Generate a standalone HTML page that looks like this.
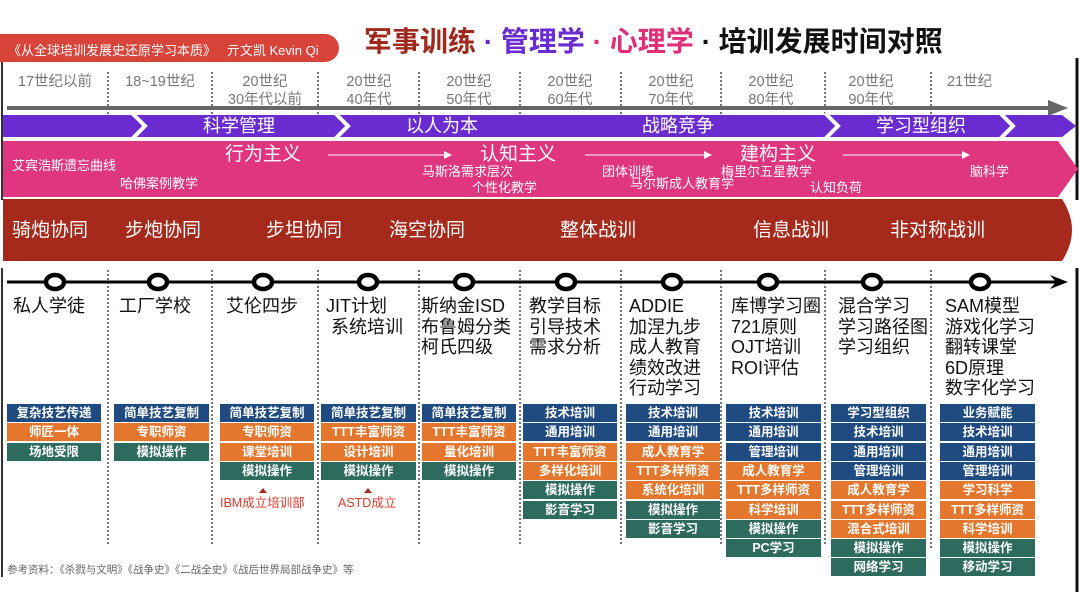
<!DOCTYPE html>
<html><head><meta charset="utf-8"><style>
*{margin:0;padding:0;box-sizing:border-box}
body{width:1080px;height:608px;background:#fff;position:relative;overflow:hidden;font-family:"Liberation Sans","Noto Sans CJK SC",sans-serif}
.a{position:absolute;white-space:nowrap}
.era{position:absolute;color:#777;font-size:14.5px;line-height:18px;text-align:center}
.w{color:#fff}
.t{position:absolute;font-size:18px;line-height:20.5px;color:#111;white-space:nowrap}
.bx{position:absolute;height:18px;color:#fff;font-size:12.5px;font-weight:bold;text-align:center;line-height:18px;white-space:nowrap;overflow:hidden}
.B{background:#1f4b80}.O{background:#e4772d}.T{background:#2d6b5f}
.s{position:absolute;color:#fff;font-size:13px;line-height:14px;white-space:nowrap}
</style></head><body>
<svg class="a" style="left:0;top:0" width="1080" height="608">
<defs><marker id="ah" markerWidth="8" markerHeight="8" refX="6" refY="4" orient="auto"><path d="M0,0 L8,4 L0,8 z" fill="#fff"/></marker></defs>
<path d="M0,34 H325 a14,14 0 0 1 0,28 H0z" fill="#d9443a"/>
<line x1="2" y1="62" x2="2" y2="200" stroke="#333" stroke-width="2"/>
<line x1="2" y1="268" x2="2" y2="577" stroke="#333" stroke-width="2"/>
<line x1="1077" y1="58" x2="1077" y2="200" stroke="#111" stroke-width="3"/>
<line x1="1077" y1="268" x2="1077" y2="592" stroke="#111" stroke-width="3"/>
<g stroke="#777" stroke-width="2" stroke-dasharray="2,2">
<line x1="108" y1="72" x2="108" y2="116"/><line x1="212" y1="72" x2="212" y2="116"/><line x1="318" y1="72" x2="318" y2="116"/><line x1="419" y1="72" x2="419" y2="116"/><line x1="520" y1="72" x2="520" y2="116"/><line x1="621" y1="72" x2="621" y2="116"/><line x1="721" y1="72" x2="721" y2="116"/><line x1="825" y1="72" x2="825" y2="116"/><line x1="931" y1="72" x2="931" y2="116"/>
<line x1="108" y1="270" x2="108" y2="545"/><line x1="212" y1="270" x2="212" y2="545"/><line x1="318" y1="270" x2="318" y2="545"/><line x1="419" y1="270" x2="419" y2="545"/><line x1="520" y1="270" x2="520" y2="545"/><line x1="621" y1="270" x2="621" y2="545"/><line x1="721" y1="270" x2="721" y2="545"/><line x1="825" y1="270" x2="825" y2="545"/><line x1="931" y1="270" x2="931" y2="550"/>
</g>
<line x1="7" y1="108" x2="1055" y2="108" stroke="#666" stroke-width="4"/>
<path d="M1048,100 L1068,108 L1048,116z" fill="#666"/>
<path d="M3,115 H1062 L1076,126 L1062,137 H3z" fill="#6a2bd0"/>
<g fill="none" stroke="#fff" stroke-width="4"><path d="M132,113 L145,126 L132,139"/><path d="M335,113 L348,126 L335,139"/><path d="M825,113 L838,126 L825,139"/><path d="M1000,113 L1013,126 L1000,139"/></g>
<path d="M3,141 H1058 L1078,169 L1058,197 H3z" fill="#e0357f"/>
<g stroke="#fff" stroke-width="1" marker-end="url(#ah)"><line x1="328" y1="155" x2="450" y2="155"/><line x1="585" y1="155" x2="710" y2="155"/><line x1="843" y1="155" x2="968" y2="155"/></g>
<path d="M3,199 H1062 Q1082,230 1062,261 H3z" fill="#a52a1c"/>
<line x1="7" y1="282" x2="1058" y2="282" stroke="#000" stroke-width="3"/>
<path d="M1050,275 L1068,282 L1050,289 L1056,282z" fill="#000"/>
<g fill="#fff" stroke="#000" stroke-width="4.5"><ellipse cx="55" cy="282" rx="9" ry="7"/><ellipse cx="158" cy="282" rx="9" ry="7"/><ellipse cx="263" cy="282" rx="9" ry="7"/><ellipse cx="368" cy="282" rx="9" ry="7"/><ellipse cx="464" cy="282" rx="9" ry="7"/><ellipse cx="566" cy="282" rx="9" ry="7"/><ellipse cx="672" cy="282" rx="9" ry="7"/><ellipse cx="768" cy="282" rx="9" ry="7"/><ellipse cx="872" cy="282" rx="9" ry="7"/><ellipse cx="980" cy="282" rx="9" ry="7"/></g>
<path d="M263,488 L267,493 L259,493z" fill="#a52a1c"/><path d="M368,488 L372,493 L364,493z" fill="#a52a1c"/>
</svg>
<div class="a w" style="left:8px;top:40px;font-size:13px">《从全球培训发展史还原学习本质》&nbsp;&nbsp;&nbsp;亓文凯 Kevin Qi</div>
<div class="a" style="left:364px;top:25px;font-size:28px;font-weight:bold;line-height:34px"><span style="color:#a0281c">军事训练</span><span style="color:#6a2bd0"> · 管理学</span><span style="color:#e0307a"> · 心理学</span><span style="color:#111"> · 培训发展时间对照</span></div>
<div class="era" style="left:5px;top:73px;width:100px">17世纪以前</div>
<div class="era" style="left:110px;top:73px;width:100px">18~19世纪</div>
<div class="era" style="left:212px;top:73px;width:106px">20世纪<br>30年代以前</div>
<div class="era" style="left:320px;top:73px;width:98px">20世纪<br>40年代</div>
<div class="era" style="left:420px;top:73px;width:98px">20世纪<br>50年代</div>
<div class="era" style="left:521px;top:73px;width:98px">20世纪<br>60年代</div>
<div class="era" style="left:622px;top:73px;width:98px">20世纪<br>70年代</div>
<div class="era" style="left:722px;top:73px;width:98px">20世纪<br>80年代</div>
<div class="era" style="left:826px;top:73px;width:90px">20世纪<br>90年代</div>
<div class="era" style="left:934px;top:73px;width:85px;text-align:left;padding-left:13px">21世纪</div>
<div class="a w" style="left:203px;top:115px;font-size:18px;line-height:22px">科学管理</div>
<div class="a w" style="left:406px;top:115px;font-size:18px;line-height:22px">以人为本</div>
<div class="a w" style="left:642px;top:115px;font-size:18px;line-height:22px">战略竞争</div>
<div class="a w" style="left:876px;top:115px;font-size:18px;line-height:22px">学习型组织</div>
<div class="a w" style="left:225px;top:144px;font-size:19px;line-height:22px">行为主义</div>
<div class="a w" style="left:480px;top:144px;font-size:19px;line-height:22px">认知主义</div>
<div class="a w" style="left:740px;top:144px;font-size:19px;line-height:22px">建构主义</div>
<div class="s" style="left:12px;top:159px">艾宾浩斯遗忘曲线</div>
<div class="s" style="left:120px;top:177px">哈佛案例教学</div>
<div class="s" style="left:422px;top:165px">马斯洛需求层次</div>
<div class="s" style="left:472px;top:181px">个性化教学</div>
<div class="s" style="left:602px;top:165px">团体训练</div>
<div class="s" style="left:630px;top:177px">马尔斯成人教育学</div>
<div class="s" style="left:721px;top:165px">梅里尔五星教学</div>
<div class="s" style="left:810px;top:181px">认知负荷</div>
<div class="s" style="left:970px;top:165px">脑科学</div>
<div class="a w" style="left:12px;top:219px;font-size:19px;line-height:24px">骑炮协同</div>
<div class="a w" style="left:125px;top:219px;font-size:19px;line-height:24px">步炮协同</div>
<div class="a w" style="left:266px;top:219px;font-size:19px;line-height:24px">步坦协同</div>
<div class="a w" style="left:389px;top:219px;font-size:19px;line-height:24px">海空协同</div>
<div class="a w" style="left:560px;top:219px;font-size:19px;line-height:24px">整体战训</div>
<div class="a w" style="left:753px;top:219px;font-size:19px;line-height:24px">信息战训</div>
<div class="a w" style="left:890px;top:219px;font-size:19px;line-height:24px">非对称战训</div>
<div class="t" style="left:13px;top:296px">私人学徒</div>
<div class="t" style="left:119px;top:296px">工厂学校</div>
<div class="t" style="left:226px;top:296px">艾伦四步</div>
<div class="t" style="left:326px;top:296px">JIT计划<br>&nbsp;系统培训</div>
<div class="t" style="left:421px;top:296px">斯纳金ISD<br>布鲁姆分类<br>柯氏四级</div>
<div class="t" style="left:529px;top:296px">教学目标<br>引导技术<br>需求分析</div>
<div class="t" style="left:629px;top:296px">ADDIE<br>加涅九步<br>成人教育<br>绩效改进<br>行动学习</div>
<div class="t" style="left:731px;top:296px">库博学习圈<br>721原则<br>OJT培训<br>ROI评估</div>
<div class="t" style="left:838px;top:296px">混合学习<br>学习路径图<br>学习组织</div>
<div class="t" style="left:945px;top:296px">SAM模型<br>游戏化学习<br>翻转课堂<br>6D原理<br>数字化学习</div>
<div class="a" style="left:220px;top:492px;font-size:12.5px;color:#d83a2a">IBM成立培训部</div>
<div class="a" style="left:338px;top:492px;font-size:12.5px;color:#d83a2a">ASTD成立</div>
<div class="a" style="left:7px;top:562px;font-size:10.5px;color:#666">参考资料：《杀戮与文明》《战争史》《二战全史》《战后世界局部战争史》等</div>
<div class="bx B" style="left:7px;top:404px;width:94px">复杂技艺传递</div><div class="bx O" style="left:7px;top:423.3px;width:94px">师匠一体</div><div class="bx T" style="left:7px;top:442.6px;width:94px">场地受限</div>
<div class="bx B" style="left:114px;top:404px;width:95px">简单技艺复制</div><div class="bx O" style="left:114px;top:423.3px;width:95px">专职师资</div><div class="bx T" style="left:114px;top:442.6px;width:95px">模拟操作</div>
<div class="bx B" style="left:220px;top:404px;width:94px">简单技艺复制</div><div class="bx O" style="left:220px;top:423.3px;width:94px">专职师资</div><div class="bx O" style="left:220px;top:442.6px;width:94px">课堂培训</div><div class="bx T" style="left:220px;top:461.9px;width:94px">模拟操作</div>
<div class="bx B" style="left:321px;top:404px;width:95px">简单技艺复制</div><div class="bx O" style="left:321px;top:423.3px;width:95px">TTT丰富师资</div><div class="bx O" style="left:321px;top:442.6px;width:95px">设计培训</div><div class="bx T" style="left:321px;top:461.9px;width:95px">模拟操作</div>
<div class="bx B" style="left:422px;top:404px;width:94px">简单技艺复制</div><div class="bx O" style="left:422px;top:423.3px;width:94px">TTT丰富师资</div><div class="bx O" style="left:422px;top:442.6px;width:94px">量化培训</div><div class="bx T" style="left:422px;top:461.9px;width:94px">模拟操作</div>
<div class="bx B" style="left:523px;top:404px;width:94px">技术培训</div><div class="bx B" style="left:523px;top:423.3px;width:94px">通用培训</div><div class="bx O" style="left:523px;top:442.6px;width:94px">TTT丰富师资</div><div class="bx O" style="left:523px;top:461.9px;width:94px">多样化培训</div><div class="bx T" style="left:523px;top:481.2px;width:94px">模拟操作</div><div class="bx T" style="left:523px;top:500.5px;width:94px">影音学习</div>
<div class="bx B" style="left:626px;top:404px;width:94px">技术培训</div><div class="bx B" style="left:626px;top:423.3px;width:94px">通用培训</div><div class="bx O" style="left:626px;top:442.6px;width:94px">成人教育学</div><div class="bx O" style="left:626px;top:461.9px;width:94px">TTT多样师资</div><div class="bx O" style="left:626px;top:481.2px;width:94px">系统化培训</div><div class="bx T" style="left:626px;top:500.5px;width:94px">模拟操作</div><div class="bx T" style="left:626px;top:519.8px;width:94px">影音学习</div>
<div class="bx B" style="left:726px;top:404px;width:95px">技术培训</div><div class="bx B" style="left:726px;top:423.3px;width:95px">通用培训</div><div class="bx B" style="left:726px;top:442.6px;width:95px">管理培训</div><div class="bx O" style="left:726px;top:461.9px;width:95px">成人教育学</div><div class="bx O" style="left:726px;top:481.2px;width:95px">TTT多样师资</div><div class="bx O" style="left:726px;top:500.5px;width:95px">科学培训</div><div class="bx T" style="left:726px;top:519.8px;width:95px">模拟操作</div><div class="bx T" style="left:726px;top:539.1px;width:95px">PC学习</div>
<div class="bx B" style="left:831px;top:404px;width:95px">学习型组织</div><div class="bx B" style="left:831px;top:423.3px;width:95px">技术培训</div><div class="bx B" style="left:831px;top:442.6px;width:95px">通用培训</div><div class="bx B" style="left:831px;top:461.9px;width:95px">管理培训</div><div class="bx O" style="left:831px;top:481.2px;width:95px">成人教育学</div><div class="bx O" style="left:831px;top:500.5px;width:95px">TTT多样师资</div><div class="bx O" style="left:831px;top:519.8px;width:95px">混合式培训</div><div class="bx T" style="left:831px;top:539.1px;width:95px">模拟操作</div><div class="bx T" style="left:831px;top:558.4px;width:95px">网络学习</div>
<div class="bx B" style="left:940px;top:404px;width:95px">业务赋能</div><div class="bx B" style="left:940px;top:423.3px;width:95px">技术培训</div><div class="bx B" style="left:940px;top:442.6px;width:95px">通用培训</div><div class="bx B" style="left:940px;top:461.9px;width:95px">管理培训</div><div class="bx O" style="left:940px;top:481.2px;width:95px">学习科学</div><div class="bx O" style="left:940px;top:500.5px;width:95px">TTT多样师资</div><div class="bx O" style="left:940px;top:519.8px;width:95px">科学培训</div><div class="bx T" style="left:940px;top:539.1px;width:95px">模拟操作</div><div class="bx T" style="left:940px;top:558.4px;width:95px">移动学习</div>
</body></html>
